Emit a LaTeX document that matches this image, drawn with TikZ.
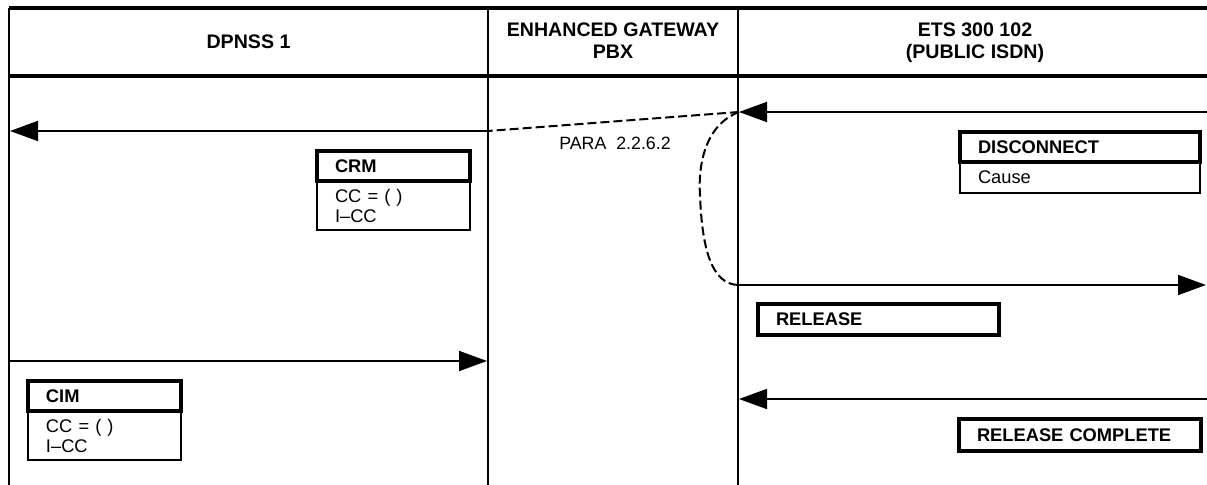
\documentclass[tikz,border=0pt]{standalone}
\usepackage{fontspec}
\setmainfont{Liberation Sans}
\usetikzlibrary{arrows.meta, positioning}

\begin{document}
\begin{tikzpicture}[x=0.5pt, y=-0.5pt,
  title/.style={align=center, font=\fontsize{9.8}{11}\selectfont\bfseries},
  msghead/.style={draw, line width=2pt, outer sep=0pt, inner xsep=9pt, inner ysep=0pt, text width=#1, align=left, minimum height=15pt, font=\fontsize{9.15}{10}\selectfont\bfseries},
  msgbody/.style={draw, line width=0.7pt, outer sep=0pt, inner xsep=9pt, inner ysep=0pt, text width=#1, align=left, font=\fontsize{9.15}{10}\selectfont},
  msg/.style={-{Triangle[length=14pt, width=10pt]}, line width=0.9pt},
  dashpath/.style={line width=1pt, dash pattern=on 4.5pt off 2pt},
  lifeline/.style={line width=1pt},
  frame/.style={line width=2pt}]

\useasboundingbox (0,0) rectangle (1207,485);

% frame and columns
\draw[frame] (9,8) -- (1207,8);
\draw[frame] (9,76) -- (1207,76);
\draw[lifeline] (9,8) -- (9,485);
\draw[lifeline] (488,8) -- (488,485);
\draw[lifeline] (738,8) -- (738,485);

\node[title] (dpnss) at (248.5,42) {DPNSS 1};
\node[title] (gw) at (613,41) {ENHANCED GATEWAY\\PBX};
\node[title] (ets) at (975,43) {ETS 300 102\\(PUBLIC ISDN)};

% message ends
\coordinate (etsA) at (1207,112);
\coordinate (gwA) at (739,112);
\coordinate (pbxA) at (488,131);
\coordinate (dpA) at (10,131);
\coordinate (gwB) at (738,285);
\coordinate (etsB) at (1206,285);
\coordinate (dpB) at (9,361);
\coordinate (pbxB) at (487,361);
\coordinate (etsC) at (1207,399);
\coordinate (gwC) at (739,399);

\draw[msg] (etsA) -- (gwA);
\draw[dashpath] (gwA) -- (pbxA);
\draw[msg] (pbxA) -- (dpA);
\draw[dashpath] (gwA) .. controls (705,125) and (698,165) .. (700,195)
  .. controls (702,250) and (712,284) .. (gwB);
\draw[msg] (gwB) -- (etsB);
\draw[msg] (dpB) -- (pbxB);
\draw[msg] (etsC) -- (gwC);

\node[font=\fontsize{8.9}{10}\selectfont] (para) at (615,143) {PARA\ \ 2.2.6.2};

% messages
\node[msghead=58.5pt, anchor=north west] (crm) at (317,151) {CRM};
\node[msgbody=58.5pt, minimum height=24.5pt, below=0pt of crm] (crmie) {CC = ( )\\I--CC};
\node[msghead=102pt, anchor=north west] (disc) at (960,132) {DISCONNECT};
\node[msgbody=102pt, minimum height=15.5pt, below=0pt of disc] (discie) {Cause};
\node[msghead=102.5pt, minimum height=15.5pt, anchor=north west] (rel) at (758,304) {RELEASE};
\node[msghead=58.5pt, anchor=north west] (cim) at (28,381) {CIM};
\node[msgbody=58.5pt, minimum height=24.5pt, below=0pt of cim] (cimie) {CC = ( )\\I--CC};
\node[msghead=103pt, minimum height=16pt, anchor=north west] (relc) at (959,419) {RELEASE COMPLETE};
\end{tikzpicture}
\end{document}
